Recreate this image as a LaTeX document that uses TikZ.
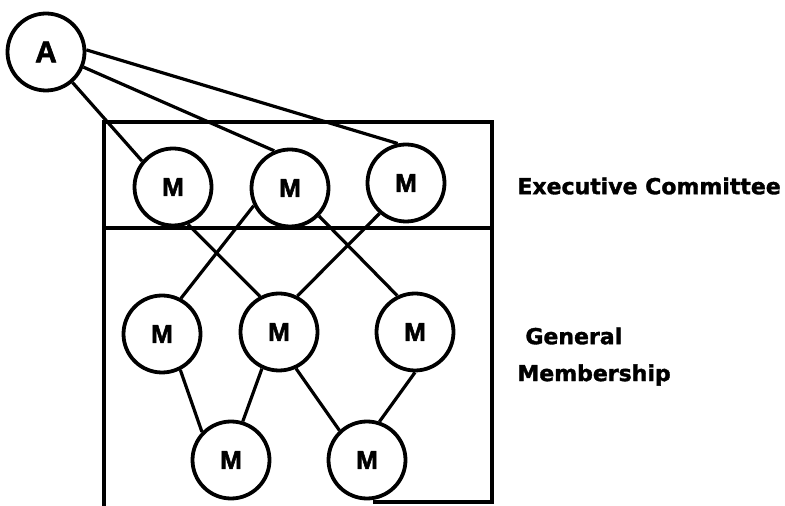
\documentclass[tikz,border=0pt]{standalone}
\usepackage{fontspec}
\newfontfamily\mfont{Liberation Sans}[FakeBold=2]
\newfontfamily\lfont{DejaVu Sans}[FakeBold=1.5]
\usetikzlibrary{positioning}

\begin{document}
\begin{tikzpicture}[
    x=0.5pt, y=-0.5pt,
member/.style = {circle, draw, line width=1.9pt, minimum size=38.5pt, inner sep=0pt,
                 font=\mfont\bfseries\fontsize{13}{15}\selectfont},
   big/.style = {font=\mfont\bfseries\fontsize{15}{17}\selectfont},
   tag/.style = {anchor=west, inner sep=0pt,
                 font=\lfont\bfseries\fontsize{11}{13}\selectfont},
every edge/.style = {draw, line width=1.6pt},
                    ]
\useasboundingbox (0,0) rectangle (785,506);
% committee box
\draw[line width=1.7pt] (104,506) -- (104,122) -- (492,122) -- (492,502) -- (373,502);
\draw[line width=1.7pt] (104,228) -- (492,228);
%
\node[member, big] (A) at (46,52) {A};
\node[member] (E1) at (173,187) {M};
\node[member] (E2) at (290,188) {M};
\node[member] (E3) at (406,183) {M};
\node[member] (G1) at (162,334) {M};
\node[member] (G2) at (279,332) {M};
\node[member] (G3) at (415,332) {M};
\node[member] (G4) at (231,460) {M};
\node[member] (G5) at (367,460) {M};
%
\node[tag] (exec) at (517,186) {Executive Committee};
\node[tag] (gen)  at (525,336) {General};
\node[tag] (memb) at (517,375) {Membership};
%
\path   (A.-49)   edge (E1.140)
        (A.-22)   edge (E2.113)
        (A.3)     edge (E3.102)
%
        (E1.-68)  edge (G2.118)
        (E2.-154) edge (G1.62)
        (E2.-44)  edge (G3.116)
        (E3.-131) edge (G2.63)
%
        (G1.-63)  edge (G4.136)
        (G2.-115) edge (G4.73)
        (G2.-65)  edge (G5.133)
        (G3.-90)  edge (G5.72);
\end{tikzpicture}
\end{document}
